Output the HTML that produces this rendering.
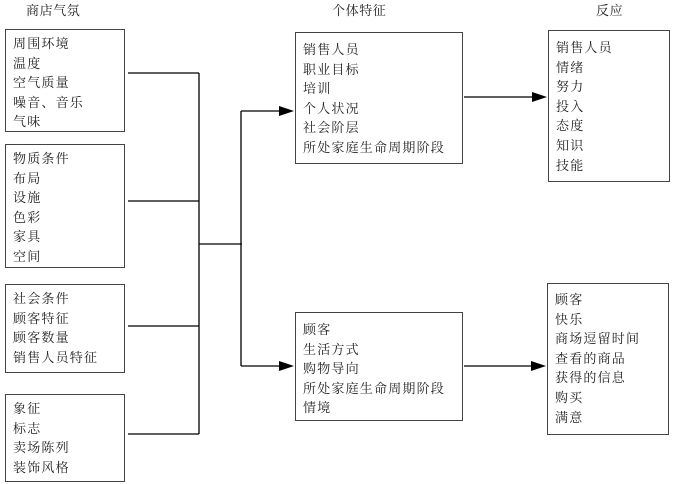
<!DOCTYPE html>
<html><head><meta charset="utf-8"><style>
body{margin:0;width:673px;height:484px;background:#fff;position:relative;overflow:hidden;font-family:"Liberation Serif","Noto Serif CJK SC","Noto Sans CJK SC",serif;color:#222}
.b{position:absolute;border:1.5px solid #444;box-sizing:border-box;font-size:13px;line-height:19.6px;padding:4px 0 0 7px;white-space:nowrap;letter-spacing:1.2px}
.t{position:absolute;font-size:13px;top:0;letter-spacing:0.6px}
svg{position:absolute;left:0;top:0}
</style></head><body>
<div class="t" style="left:26px">商店气氛</div>
<div class="t" style="left:332px">个体特征</div>
<div class="t" style="left:596px">反应</div>

<div class="b" style="left:5px;top:29px;width:120px;height:103px">周围环境<br>温度<br>空气质量<br>噪音、音乐<br>气味</div>
<div class="b" style="left:5px;top:144px;width:120px;height:124px">物质条件<br>布局<br>设施<br>色彩<br>家具<br>空间</div>
<div class="b" style="left:5px;top:284px;width:120px;height:89px">社会条件<br>顾客特征<br>顾客数量<br>销售人员特征</div>
<div class="b" style="left:5px;top:394px;width:120px;height:88px">象征<br>标志<br>卖场陈列<br>装饰风格</div>

<div class="b" style="left:295px;top:32px;width:168px;height:132px;padding-top:7px">销售人员<br>职业目标<br>培训<br>个人状况<br>社会阶层<br>所处家庭生命周期阶段</div>
<div class="b" style="left:295px;top:312px;width:168px;height:109px;padding-top:7px">顾客<br>生活方式<br>购物导向<br>所处家庭生命周期阶段<br>情境</div>

<div class="b" style="left:548px;top:30px;width:122px;height:152px;padding-top:7px">销售人员<br>情绪<br>努力<br>投入<br>态度<br>知识<br>技能</div>
<div class="b" style="left:547px;top:283px;width:122px;height:152px;padding-top:6px">顾客<br>快乐<br>商场逗留时间<br>查看的商品<br>获得的信息<br>购买<br>满意</div>

<svg width="673" height="484">
<g stroke="#000" stroke-width="1.3" fill="none">
<path d="M128 73H199M128 201H199M128 326H199M128 434H199M199 73V434M199 244H242M241 111V366M241 111H282M241 366H282M464 97H533M464 366H533"/>
</g>
<g fill="#000">
<path d="M294 111L279 106L279 116Z"/>
<path d="M294 366L279 361L279 371Z"/>
<path d="M547 97L532 92L532 102Z"/>
<path d="M546 366L531 361L531 371Z"/>
</g>
</svg>
</body></html>
